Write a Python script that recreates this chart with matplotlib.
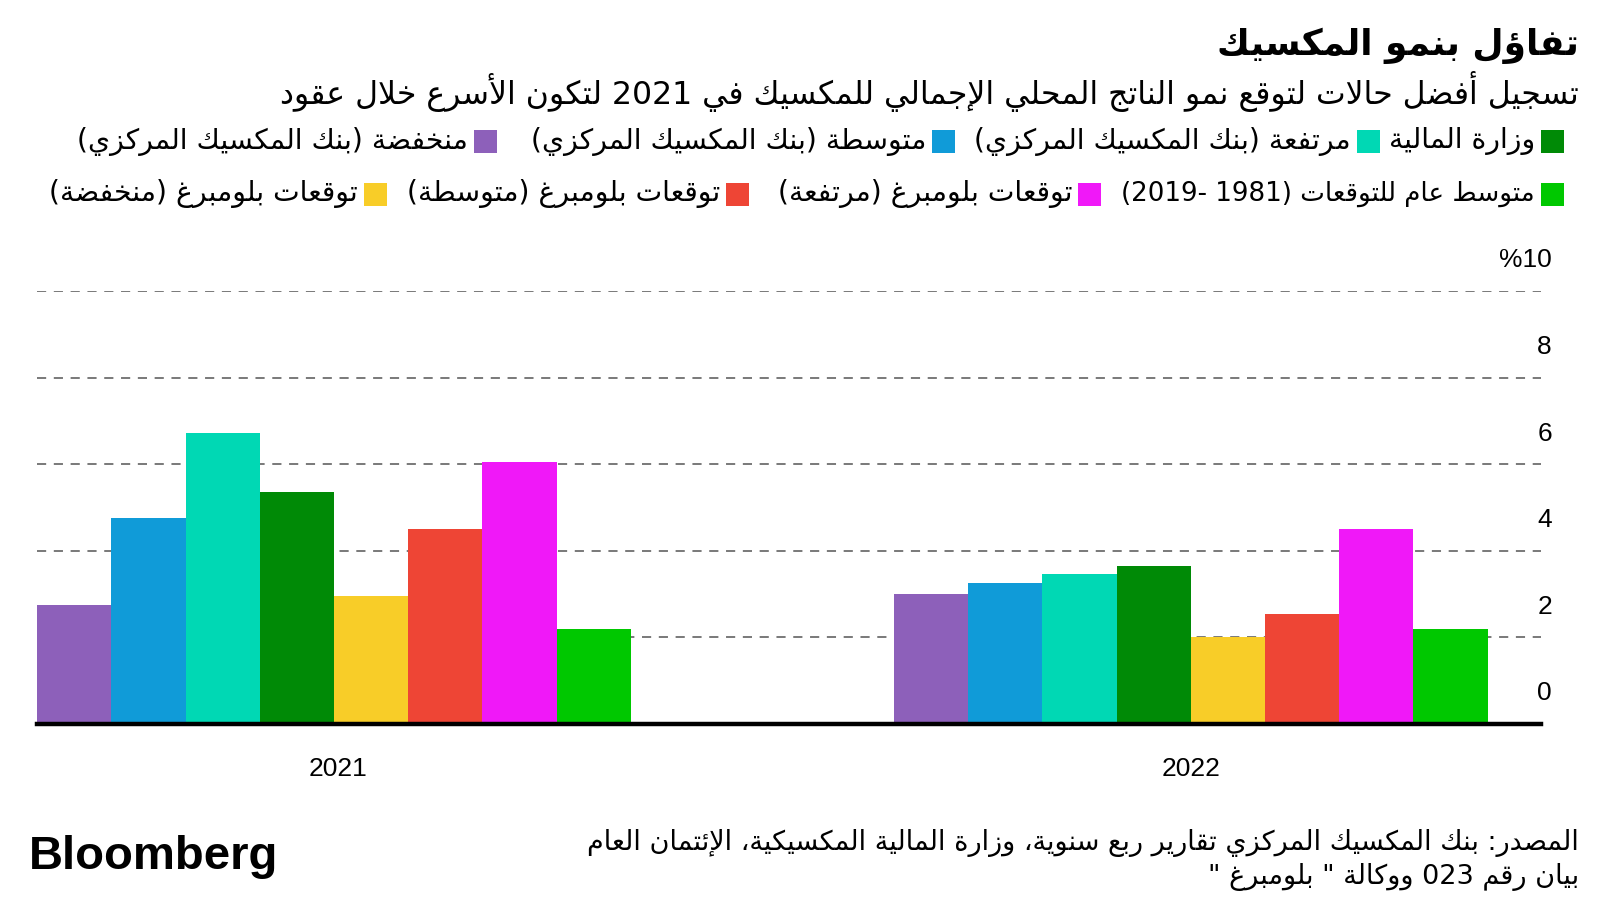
import re

import matplotlib
matplotlib.use('Agg')  # sem janela, salva direto em arquivo
import matplotlib.pyplot as plt
from matplotlib.patches import Rectangle

# -------------------------------------------------------
# Dados
# -------------------------------------------------------

anos = ['2021', '2022']

# ordem das barras, da esquerda para a direita
series = [
    'منخفضة (بنك المكسيك المركزي)',
    'متوسطة (بنك المكسيك المركزي)',
    'مرتفعة (بنك المكسيك المركزي)',
    'وزارة المالية',
    'توقعات بلومبرغ (منخفضة)',
    'توقعات بلومبرغ (متوسطة)',
    'توقعات بلومبرغ (مرتفعة)',
    'متوسط عام للتوقعات (1981 -2019)',
]
cores = ['#8D60BA', '#109BD8', '#00D8B4', '#008A06',
         '#F8CD28', '#EE4535', '#F018F8', '#00C800']

valores_2021 = [2.75, 4.75, 6.72, 5.35, 2.95, 4.5, 6.05, 2.2]
valores_2022 = [3.0, 3.25, 3.47, 3.65, 2.0, 2.55, 4.5, 2.2]

y_ticks = [0, 2, 4, 6, 8, 10]
y_labels = ['0', '2', '4', '6', '8', '%10']

titulo = 'تفاؤل بنمو المكسيك'
subtitulo = 'تسجيل أفضل حالات لتوقع نمو الناتج المحلي الإجمالي للمكسيك في 2021 لتكون الأسرع خلال عقود'
fonte_1 = 'المصدر: بنك المكسيك المركزي تقارير ربع سنوية، وزارة المالية المكسيكية، الإئتمان العام'
fonte_2 = 'بيان رقم 023 ووكالة " بلومبرغ "'

# legenda: indices das series, da direita para a esquerda
legenda_linha1 = [3, 2, 1, 0]
legenda_linha2 = [7, 6, 5, 4]

# -------------------------------------------------------
# Árabe: formas de apresentação + ordem visual (matplotlib não faz shaping)
# -------------------------------------------------------

FORMAS = {
    'ء': (0xFE80, 1), 'آ': (0xFE81, 2), 'أ': (0xFE83, 2), 'ؤ': (0xFE85, 2),
    'إ': (0xFE87, 2), 'ئ': (0xFE89, 4), 'ا': (0xFE8D, 2), 'ب': (0xFE8F, 4),
    'ة': (0xFE93, 2), 'ت': (0xFE95, 4), 'ث': (0xFE99, 4), 'ج': (0xFE9D, 4),
    'ح': (0xFEA1, 4), 'خ': (0xFEA5, 4), 'د': (0xFEA9, 2), 'ذ': (0xFEAB, 2),
    'ر': (0xFEAD, 2), 'ز': (0xFEAF, 2), 'س': (0xFEB1, 4), 'ش': (0xFEB5, 4),
    'ص': (0xFEB9, 4), 'ض': (0xFEBD, 4), 'ط': (0xFEC1, 4), 'ظ': (0xFEC5, 4),
    'ع': (0xFEC9, 4), 'غ': (0xFECD, 4), 'ف': (0xFED1, 4), 'ق': (0xFED5, 4),
    'ك': (0xFED9, 4), 'ل': (0xFEDD, 4), 'م': (0xFEE1, 4), 'ن': (0xFEE5, 4),
    'ه': (0xFEE9, 4), 'و': (0xFEED, 2), 'ى': (0xFEEF, 2), 'ي': (0xFEF1, 4),
}
LAM_ALEF = {'آ': 0xFEF5, 'أ': 0xFEF7, 'إ': 0xFEF9, 'ا': 0xFEFB}


def liga_frente(c):
    return c in FORMAS and FORMAS[c][1] == 4


def moldar(texto):
    saida = []
    i, n = 0, len(texto)
    while i < n:
        c = texto[i]
        if c not in FORMAS:
            saida.append(c)
            i += 1
            continue
        ant = texto[i - 1] if i > 0 else ''
        liga_ant = liga_frente(ant) and FORMAS[c][1] >= 2
        if c == 'ل' and i + 1 < n and texto[i + 1] in LAM_ALEF:
            saida.append(chr(LAM_ALEF[texto[i + 1]] + (1 if liga_ant else 0)))
            i += 2
            continue
        prox = texto[i + 1] if i + 1 < n else ''
        liga_prox = FORMAS[c][1] == 4 and prox in FORMAS and FORMAS[prox][1] >= 2
        base = FORMAS[c][0]
        if liga_ant and liga_prox:
            off = 3
        elif liga_ant:
            off = 1
        elif liga_prox:
            off = 2
        else:
            off = 0
        saida.append(chr(base + off))
        i += 1
    s = ''.join(saida)[::-1]
    s = re.sub(r'[0-9A-Za-z.]+', lambda m: m.group(0)[::-1], s)  # números ficam LTR
    return s.translate(str.maketrans('()', ')('))


# -------------------------------------------------------
# Figura
# -------------------------------------------------------

W, H = 1600, 900
fig = plt.figure(figsize=(16, 9), dpi=100)
fig.patch.set_facecolor('white')
renderer = fig.canvas.get_renderer()

AR = ['DejaVu Sans']
LAT = ['Liberation Sans', 'DejaVu Sans']


def fx(x):
    return x / W


def fy(y):
    return 1 - y / H


def texto_ar(x, y, s, tam, **kw):
    return fig.text(fx(x), fy(y), moldar(s), family=AR, fontsize=tam,
                    ha='right', va='center', **kw)


def ajustar(t, largura):
    w = t.get_window_extent(renderer=renderer).width
    t.set_fontsize(t.get_fontsize() * largura / w)
    return t.get_fontsize()


# eixo: base em y=724 px, 10% em y=291 px
ax = fig.add_axes([fx(37), fy(724), fx(1541) - fx(37), fy(291) - fy(724)])
ax.set_ylim(0, 10)
ax.set_xlim(-0.3466, 1.4086)
for s in ax.spines.values():
    s.set_visible(False)
ax.set_xticks([])
ax.set_yticks([])

n = len(series)
larg = 0.0866
for k in range(n):
    xs = [g - larg * n / 2 + larg * (k + 0.5) for g in range(len(anos))]
    ax.bar(xs, [valores_2021[k], valores_2022[k]], width=larg,
           color=cores[k], linewidth=0, zorder=2)

for v in y_ticks[1:]:
    ax.axhline(v, color='#555555', lw=1.1, dashes=(6, 5), zorder=1)
ax.axhline(0, color='black', lw=3.2, zorder=3, clip_on=False)

for v, lab in zip(y_ticks, y_labels):
    ax.annotate(lab, xy=(fx(1552), v), xycoords=('figure fraction', 'data'),
                xytext=(0, 22), textcoords='offset points',
                ha='right', va='center', fontsize=19, family=LAT)

for g, ano in enumerate(anos):
    ax.annotate(ano, xy=(g, fy(769)), xycoords=('data', 'figure fraction'),
                xytext=(3 if g == 0 else 0, 0), textcoords='offset points',
                ha='center', va='center', fontsize=19, family=LAT)

# títulos
t = texto_ar(1579, 46, titulo, 26, fontweight='bold')
ajustar(t, 362)
t = texto_ar(1579, 92, subtitulo, 20)
ajustar(t, 1298)

# legenda: a entrada longa (com números) cabe em 414 px, as outras um pouco maiores
lado = 23
pos_quadrados = {
    141: [1541, 1357, 932, 474],
    194: [1541, 1078, 726, 364],
}
tam_leg = None
for y, idx in zip([141, 194], [legenda_linha1, legenda_linha2]):
    for x0, k in zip(pos_quadrados[y], idx):
        fig.patches.append(Rectangle((fx(x0), fy(y + lado / 2)), fx(lado), lado / H,
                                     transform=fig.transFigure, color=cores[k],
                                     linewidth=0))
        t = texto_ar(x0 - 6, y, series[k], 18)
        if k == 7:
            tam_7 = ajustar(t, 414)
        else:
            t.set_gid('leg')
for t in fig.texts:
    if t.get_gid() == 'leg':
        t.set_fontsize(tam_7 * 1.08)

# rodapé
fig.text(fx(29), fy(857), 'Bloomberg', family=LAT, fontweight='bold',
         fontsize=34, ha='left', va='center')
t = texto_ar(1579, 843, fonte_1, 17)
tam_f = ajustar(t, 992)
texto_ar(1579, 877, fonte_2, tam_f)

fig.savefig('out.png', dpi=100)
plt.close(fig)
